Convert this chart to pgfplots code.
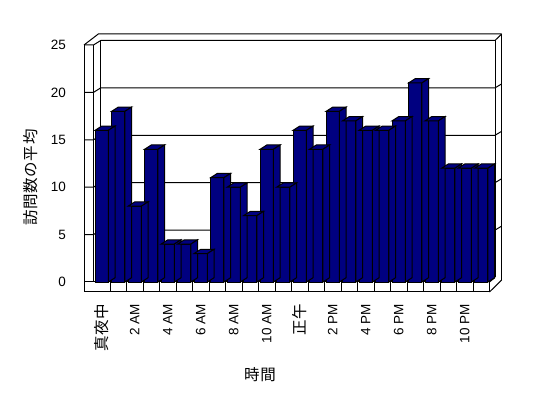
\documentclass[border=0pt]{standalone}
\usepackage{fontspec}
\usepackage{pgfplots}
\usepackage{pgfplotstable}
\pgfplotsset{compat=1.18}
\setmainfont{Liberation Sans}
\newfontfamily\cjk[LetterSpace=4]{Noto Sans CJK JP}
\definecolor{barblue}{RGB}{0,0,128}
\newcommand\lblfont{\fontsize{13.5bp}{16bp}\selectfont}
\newcommand\cjkfont{\cjk\fontsize{15.5bp}{18bp}\selectfont}
\pgfdeclareplotmark{nothing}{}
\pgfplotstableread{
h v
0 16
1 18
2 8
3 14
4 4
5 4
6 3
7 11
8 10
9 7
10 14
11 10
12 16
13 14
14 18
15 17
16 16
17 16
18 17
19 21
20 17
21 12
22 12
23 12
}\visits
\begin{document}
\begin{tikzpicture}[line width=1bp]
\useasboundingbox (0,0) rectangle (548bp,398bp);
\begin{scope}[x=1bp,y=1bp]
  % grid lines on left wall and back wall
  \foreach \v in {5,10,15,20} {
    \pgfmathsetmacro\yf{116+\v*9.48}
    \pgfmathsetmacro\yb{\yf+4.5}
    \draw (84,\yf) -- (93.5,\yf) -- (100.7,\yb) -- (495,\yb) -- (501.7,\yb+4);
  }
  % top structure (25)
  \draw (84,353) -- (93.5,353) -- (100.7,357.5) -- (495,357.5) -- (501.7,364);
  \draw (84,353) -- (98.3,364) -- (501.7,364);
  % verticals
  \draw (84,106) -- (84,353);
  \draw (93.5,116) -- (93.5,353);
  \draw (100.7,120.5) -- (100.7,357.5);
  \draw (495,120.5) -- (495,357.5);
  \draw (501.7,118) -- (501.7,364);
  % floor
  \draw (100.7,120.5) -- (495,120.5);
  \draw (489.5,116) -- (495,120.5);
  \draw (489.5,106) -- (501.7,118);
  \draw (84,106) rectangle (489.5,116);
  \foreach \k in {1,...,23} \draw ({93.5+16.5*\k},106) -- ({93.5+16.5*\k},116);
\end{scope}
\begin{axis}[
  at={(93.5bp,116bp)}, anchor=south west,
  scale only axis, width=396bp, height=237bp,
  xmin=-0.5, xmax=23.5, ymin=0, ymax=25,
  axis line style={draw=none},
  tick style={draw=none}, major tick length=0pt,
  xtick={0,2,...,22},
  xticklabels={{\cjkfont 真夜中},2 AM,4 AM,6 AM,8 AM,10 AM,{\cjkfont 正午},2 PM,4 PM,6 PM,8 PM,10 PM},
  xticklabel style={rotate=90, anchor=east, inner sep=0pt, font=\lblfont},
  xticklabel shift=21.8bp,
  ytick={0,5,10,15,20,25}, yticklabels={0,5,10,15,20,25},
  yticklabel style={anchor=east, inner sep=0pt, font=\lblfont},
  yticklabel shift=27.5bp,
  xlabel={\cjkfont 時間},
  xlabel style={at={(axis description cs:0.4205,-0.392)}, anchor=center},
  ylabel={\cjkfont 訪問数の平均},
  ylabel style={at={(axis description cs:-0.1578,0.441)}, anchor=center},
  clip=false,
]
\addplot[
  scatter, only marks, mark=nothing,
  visualization depends on={\thisrow{v} \as \hval},
  scatter/@pre marker code/.code={%
    \pgfmathsetmacro\hb{4.3-\hval*9.48}%
    \pgfmathsetmacro\hc{-\hval*9.48}%
    \filldraw[fill=barblue, draw=black, line width=1bp]
      (-6.65bp,0bp) -- (6.65bp,0bp) -- (13.35bp,4.3bp) -- (0.05bp,4.3bp) -- cycle;
    \filldraw[fill=barblue, draw=black, line width=1bp]
      (6.65bp,0bp) -- (13.35bp,4.3bp) -- (13.35bp,\hb bp) -- (6.65bp,\hc bp) -- cycle;
  },
  scatter/@post marker code/.code={},
] table[x=h,y=v]{\visits};
\addplot[ybar, bar width=13.3bp, fill=barblue, draw=black, line width=1bp]
  table[x=h,y=v]{\visits};
\end{axis}
\end{tikzpicture}
\end{document}
